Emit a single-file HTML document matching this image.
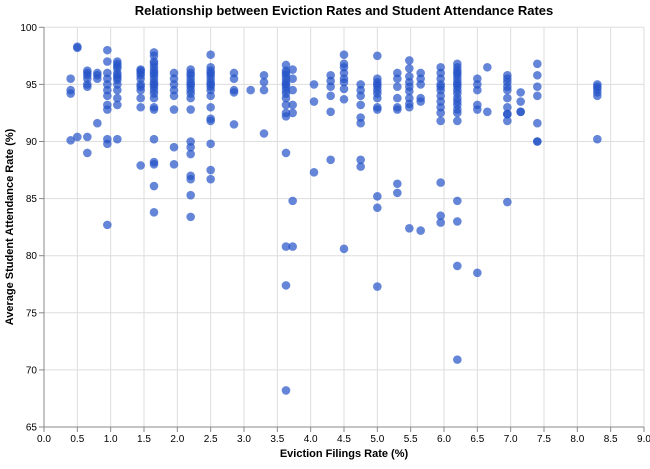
<!DOCTYPE html>
<html><head><meta charset="utf-8"><style>
body{margin:0;background:#fff;}
svg{font-family:"Liberation Sans",sans-serif;}
</style></head><body>
<svg id="chart" width="650" height="464">
<text x="344" y="15" text-anchor="middle" font-size="13" font-weight="bold">Relationship between Eviction Rates and Student Attendance Rates</text>
<g id="grid"></g><g id="axes"></g><g id="pts"></g>
<text x="344" y="457" text-anchor="middle" font-size="11" font-weight="bold">Eviction Filings Rate (%)</text>
<text transform="translate(13,227) rotate(-90)" text-anchor="middle" font-size="11" font-weight="bold">Average Student Attendance Rate (%)</text>
</svg>
<script>
const xTicks=[0,0.5,1,1.5,2,2.5,3,3.5,4,4.5,5,5.5,6,6.5,7,7.5,8,8.5,9];
const yTicks=[65,70,75,80,85,90,95,100];
const cols=[
[0.4,[95.5,94.5,94.2,90.1]],
[0.5,[98.2,98.3,90.4]],
[0.65,[96.2,96,95.8,95.5,95,94.8,90.4,89]],
[0.8,[96,95.8,95.5,91.6]],
[0.95,[98,97,96,95.5,95,94.5,94,93.2,92.8,90.2,89.8,82.7]],
[1.1,[96.4,96,95.8,95.6,95.4,95,94.5,96.8,97,96.6,93.8,93.2,90.2]],
[1.45,[96.2,96.3,96,95.5,95,94.5,93.8,93,87.9,95.8,94.8]],
[1.65,[97.8,97.5,97,96.8,96.5,96.2,96,95.8,95.5,95.2,95,94.8,94.5,94.2,93.8,93,92.8,90.2,88.2,88,86.1,83.8]],
[1.95,[96,95.5,95,94.5,94,92.8,89.5,88]],
[2.2,[96.3,96,95.8,95.5,95.2,95,94.8,94.5,94.2,93.8,92.8,90,89.5,88.9,87,86.7,85.3,83.4]],
[2.5,[97.6,96.5,96.2,96,95.8,95.5,95.2,95,94.8,94.5,94,93,92,91.8,89.8,87.5,86.7]],
[2.85,[96,95.5,94.5,94.3,91.5]],
[3.1,[94.5]],
[3.3,[95.8,95.2,94.5,90.7]],
[3.63,[96.7,96.2,96,95.8,95.5,95.2,95,94.8,94.5,94.2,93.8,93.2,92.5,92.2,89,80.8,77.4,68.2]],
[3.73,[96.3,95.5,94.5,93.2,92.5,84.8,80.8]],
[4.05,[95,93.5,87.3]],
[4.3,[95.8,95.3,94.8,94,92.6,88.4]],
[4.5,[97.6,96.8,96.5,96,95.5,95.2,94.6,93.7,80.6]],
[4.75,[95,94.5,94,93.2,92.1,91.6,88.4,87.8]],
[5.0,[97.5,95.5,95.2,95,94.8,94.5,94.2,93.8,93,92.8,85.2,84.2,77.3]],
[5.3,[96,95.5,94.8,93.8,93,92.8,85.5,86.3]],
[5.48,[97.1,96.4,95.7,95.2,94.8,94.4,93.8,93.3,93,82.4]],
[5.65,[96,95.5,95,93.8,93.5,82.2]],
[5.95,[96.5,96,95.5,95,94.8,94.5,94,93.5,93,92.5,91.8,86.4,83.5,82.9]],
[6.2,[96.8,96.5,96.2,96,95.8,95.5,95.2,95,94.8,94.5,94.2,93.8,93.5,93.2,92.8,92.5,91.8,84.8,83,79.1,70.9]],
[6.5,[95.5,95,94.5,93.2,92.8,78.5]],
[6.65,[96.5,92.6]],
[6.95,[95.8,95.5,95.2,94.8,94.5,93.8,93,92.4,91.8,92.4,84.7]],
[7.15,[94.3,93.5,92.6,92.6]],
[7.4,[96.8,95.8,94.8,94,91.6,90,90]],
[8.3,[95,94.8,94.6,94.3,94,90.2]]
];
const X0=44,X1=644,Y0=427,Y1=27.3;
const sx=v=>X0+(v-0)/9*(X1-X0);
const sy=v=>Y0-(v-65)/35*(Y0-Y1);
const NS="http://www.w3.org/2000/svg";
function mk(p,t,a){const e=document.createElementNS(NS,t);for(const k in a)e.setAttribute(k,a[k]);p.appendChild(e);return e;}
const grid=document.getElementById('grid'),axes=document.getElementById('axes'),pts=document.getElementById('pts');
xTicks.forEach(t=>{
 const l=mk(grid,'line',{x1:sx(t),x2:sx(t),y1:Y1,y2:Y0,stroke:'#ddd'});
 
 
 mk(axes,'line',{x1:sx(t),x2:sx(t),y1:Y0,y2:Y0+5,stroke:'#888'});
 const tx=mk(axes,'text',{x:sx(t),y:Y0+15,'text-anchor':'middle','font-size':10});
 tx.textContent=t.toFixed(1);
 
 
});
yTicks.forEach(t=>{
 const l=mk(grid,'line',{x1:X0,x2:X1,y1:sy(t),y2:sy(t),stroke:'#ddd'});
 
 
 mk(axes,'line',{x1:X0-5,x2:X0,y1:sy(t),y2:sy(t),stroke:'#888'});
 const tx=mk(axes,'text',{x:X0-7,y:sy(t)+3.5,'text-anchor':'end','font-size':10});
 tx.textContent=t;
 
 
});
mk(axes,'line',{x1:X0,x2:X1,y1:Y0,y2:Y0,stroke:'#888'});
mk(axes,'line',{x1:X0,x2:X0,y1:Y1,y2:Y0,stroke:'#888'});
cols.forEach(c=>c[1].forEach(v=>{
 const p=mk(pts,'circle',{cx:sx(c[0]),cy:sy(v),r:4.3,fill:'#2352c8','fill-opacity':0.7});
 
 
}));
</script>
</body></html>
